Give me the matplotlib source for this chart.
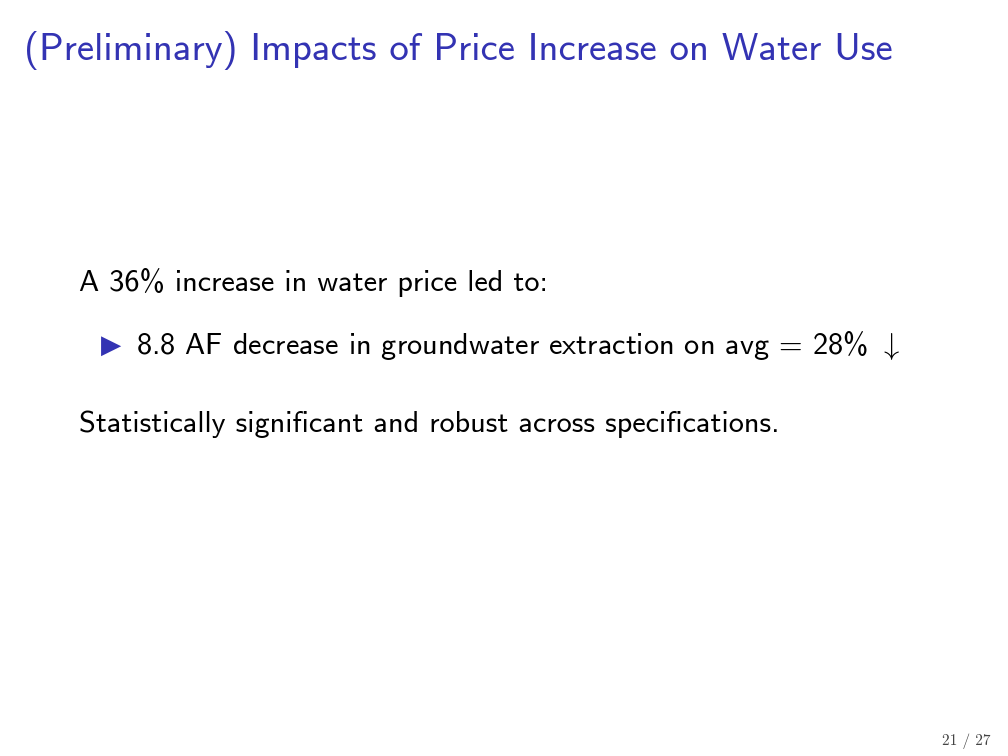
import matplotlib
matplotlib.use("Agg")
import matplotlib.pyplot as plt

W, H = 1008, 756
blue = "#3333b3"

title = "(Preliminary) Impacts of Price Increase on Water Use"
intro = "A 36% increase in water price led to:"
bullets = [r"8.8 AF decrease in groundwater extraction on avg = 28% $\downarrow$"]
closing = "Statistically significant and robust across specifications."
page = "21 / 27"

plt.rcParams["mathtext.fontset"] = "cm"
sans = ["cmss10", "DejaVu Sans"]

fig = plt.figure(figsize=(W / 100, H / 100), dpi=100)


def put(x, y, s, **kw):
    # pixel coords from top-left, baseline aligned
    fig.text(x / W, 1 - y / H, s, va="baseline", **kw)


put(24, 60, title, fontsize=27.9, color=blue, family=sans)
put(79, 291, intro, fontsize=21.8, color="black", family=sans)
for i, b in enumerate(bullets):
    y = 354 + i * 40
    put(101, y - 1, "\u25b6", fontsize=19, color=blue, family="DejaVu Sans")
    put(136, y, b, fontsize=21.8, color="black", family=sans)
put(79, 432, closing, fontsize=21.8, color="black", family=sans)
put(990, 745, page, fontsize=11, color="#444444", family=["cmr10", "DejaVu Serif"], ha="right")

fig.savefig("out.png", dpi=100)
